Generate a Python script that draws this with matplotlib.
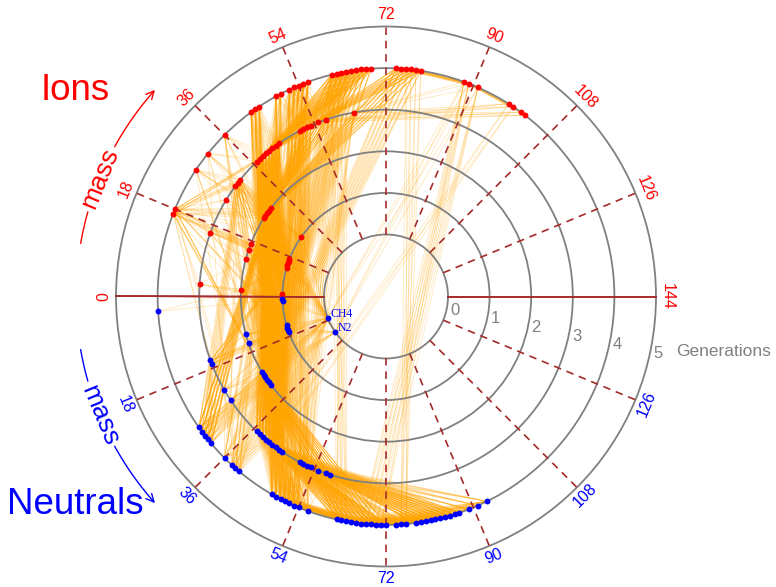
import numpy as np
import matplotlib
matplotlib.use("Agg")
import matplotlib.pyplot as plt
from matplotlib.collections import LineCollection
from matplotlib.patches import Circle, FancyArrowPatch
from matplotlib.path import Path

plt.rcParams['font.family'] = ['Liberation Sans', 'DejaVu Sans']

# ---------------------------------------------------------------------------
# Species: mass (amu) of each species, grouped by generation
# ---------------------------------------------------------------------------
ions_g1 = [1, 13, 14, 15, 16, 17, 28]
ions_g2 = [2, 12, 15, 17, 26, 27, 28, 29, 30]
ions_g3 = [3, 16, 25, 29, 30, 31, 37, 38, 39, 40, 41, 42, 43, 44,
           50, 51, 52, 53, 55, 57, 64]
ions_g4 = [17, 18, 27, 31, 36, 43, 44, 45, 49, 50, 52, 53, 54, 55, 56,
           61, 62, 63, 64, 65, 66, 67, 68, 69, 74, 75, 76, 77, 78, 79,
           88, 89, 91, 98, 99, 101, 102]

neutrals_g0 = [16, 28]
neutrals_g1 = [1, 2, 13, 14, 15, 16]
neutrals_g2 = [12, 15, 25, 26, 27, 28, 29, 30]
neutrals_g3 = [16, 17, 24, 27, 37, 38, 39, 40, 41, 42, 43, 44, 45,
               50, 51, 52, 53, 55, 57, 58]
neutrals_g4 = [3, 28, 29, 30, 31, 32, 36, 38, 39, 40, 48, 49, 50, 51, 52,
               53, 54, 56, 62, 63, 64, 65, 66, 67, 68, 69, 70, 71, 72,
               74, 75, 76, 78, 79, 80, 81, 82, 83, 84, 85, 86, 87, 89, 91, 93]

named_species = {("n", 0, 16): "CH4", ("n", 0, 28): "N2"}

# Reaction links: "sources > targets"; token = kind, generation, mass or mass range
reactions = [
    "i4.17 > i3.3 i3.16 i3.25 i3.29-31 i3.37-39 i2.2 i2.12-17 i2.26-29 i1.14-17 i1.28 n2.12-15 n2.26-28 n3.16-17",
    "i4.18 > i3.16 i3.25 i3.29-31 i3.37-40 i2.12-17 i2.26-30 i1.13-16 i1.28 n2.25-29 n3.24-27 n1.13-16",
    "i4.27 > i3.25 i3.29-31 i2.26-28 i1.28 n2.26-28 n3.27",
    "i4.31 > i3.29-31 i3.37-38 i2.29-30 n2.29-30 n3.24",
    "i4.36 > i3.37-40 i2.26-28 n2.25-27 n3.37-39",
    "i3.3 > i2.2 i1.1 n1.1-2 i2.12",
    "i3.16 > i2.15-17 i1.14-17 n2.15 n1.15-16",
    "i3.25 > i2.26-27 i1.13-14 n2.25-26 n1.13",
    "i3.29-31 > i2.26-30 i1.14-17 i1.28 n2.26-30 n1.13-16 n3.27 n4.28-32",
    "i4.43-45 > i3.37-44 i2.26-30 n3.37-45 n2.25-30",
    "i4.49-50 > i3.40-44 i3.50-52 n3.40-45 n4.48-52 i2.27-30",
    "i4.52-56 > i3.41-44 i3.50-57 n4.48-56 n3.43-45 n2.26-29 i1.13-17",
    "i4.61-69 > i3.50-57 i3.37-44 i2.26-30 n2.25-30",
    "i4.61-64 > n3.40-43 n3.50-53 n4.62-64",
    "i4.74-79 > i3.64 i3.50-57 i2.26-30 n2.26-29",
    "i4.76-79 > n4.75-76",
    "i4.88-91 > i4.74-79 i3.64 n4.67-71 n0.28 n0.16",
    "i4.98-102 > i3.64 i3.55-57 i4.88-91",
    "i4.98-99 > n3.41 n3.43",
    "i3.64 > i2.26-30 n3.50-53 n0.16",
    "i3.37-44 > i2.26-30 n3.37-45 n2.25-30 n4.48-54 i1.13-17 n1.13-16",
    "i3.50-57 > i3.37-44 i2.26-30",
    "i3.50-53 > n3.50-52 n3.43-45 n4.50-54",
    "i2.26-30 > i1.13-17 n2.25-30 n3.37-45 n1.13-16 n4.28-32 n0.16 n0.28 i1.28",
    "i2.2-17 > i1.1 i1.13-17 n1.1-2 n1.13-16 n0.16",
    "i1.13-17 > n0.16 n0.28 n1.13-16 n2.25-30 n3.16-17",
    "i1.28 > n0.28 n0.16 n1.14 n2.26-28",
    "i1.1 > n1.1-2 n0.16",
    "n4.62-72 > n3.50-58 n3.37-45 n2.25-30 n4.48-56",
    "n4.74-76 > n3.50-58 n4.62-66",
    "n4.78-87 > n3.50-58 n3.40-45 n4.62-72",
    "n4.89-93 > n3.50-58 n4.62-72",
    "n4.48-56 > n3.37-45 n2.25-30 n3.50-58",
    "n4.36-40 > n3.24-27 n2.25-30 n3.37-41 i2.26-30",
    "n4.28-32 > n3.16-17 n3.24-27 n2.25-30 i2.26-30 n0.16",
    "n4.3 > n1.1 i2.2",
    "n3.16-17 > n0.16 n1.13-16 n2.12-15",
    "n3.24-27 > n2.25-27 n1.13-14 n0.16 n0.28",
    "n3.37-45 > n2.25-30 n1.13-16 n0.16",
    "n3.50-58 > n2.25-30 n3.37-45",
    "n2.25-30 > n1.13-16 n0.16 n0.28",
    "n2.12-15 > n1.13-16 n0.16 n0.28",
    "n1.13-16 > n0.16 n0.28",
    "n1.1-2 > n0.16",
]

mass_ticks = [0, 18, 36, 54, 72, 90, 108, 126, 144]
generations = [0, 1, 2, 3, 4, 5]

# ---------------------------------------------------------------------------
# Geometry
# ---------------------------------------------------------------------------
R0 = 1.49            # radius of generation 0
MAX_MASS = 144.0
SCALE = 41.6         # pixels per radial unit
CX, CY = 386.0, 296.5
W, H = 776, 587


def radius(gen):
    return R0 + gen


def angle(kind, mass):
    frac = np.pi * mass / MAX_MASS
    return np.pi - frac if kind == "i" else np.pi + frac


def pos(kind, gen, mass):
    r, t = radius(gen), angle(kind, mass)
    return r * np.cos(t), r * np.sin(t)


def px(x, y):
    return (x - CX) / SCALE, (CY - y) / SCALE


species = {}
for kind, groups in (("i", [None, ions_g1, ions_g2, ions_g3, ions_g4]),
                     ("n", [neutrals_g0, neutrals_g1, neutrals_g2, neutrals_g3, neutrals_g4])):
    for gen, masses in enumerate(groups):
        if masses is None:
            continue
        for m in masses:
            species[(kind, gen, m)] = pos(kind, gen, m)


def expand(token):
    kind, gen, rng = token[0], int(token[1]), token[3:]
    lo, _, hi = rng.partition("-")
    lo = int(lo)
    hi = int(hi) if hi else lo
    return [k for k in species if k[0] == kind and k[1] == gen and lo <= k[2] <= hi]


segments = []
for rx in reactions:
    src, dst = rx.split(">")
    srcs = [k for t in src.split() for k in expand(t)]
    dsts = [k for t in dst.split() for k in expand(t)]
    for a in srcs:
        for b in dsts:
            if a != b:
                segments.append([species[a], species[b]])

# ---------------------------------------------------------------------------
# Figure
# ---------------------------------------------------------------------------
fig = plt.figure(figsize=(W / 100, H / 100), dpi=100)
ax = fig.add_axes([0, 0, 1, 1])
ax.set_xlim(-CX / SCALE, (W - CX) / SCALE)
ax.set_ylim(-(H - CY) / SCALE, CY / SCALE)
ax.axis("off")

ax.add_collection(LineCollection(segments, colors="#FFA500", linewidths=0.55,
                                 alpha=0.28, zorder=1))

GRID = "#808080"
BROWN = "#A52A2A"
for g in generations:
    ax.add_patch(Circle((0, 0), radius(g), fill=False, ec=GRID, lw=1.3, zorder=2))

rin, rout = radius(0), radius(5)
for m in mass_ticks:
    for kind in ("i", "n"):
        t = angle(kind, m)
        ls = "-" if m in (0, 144) else (0, (4.5, 3.5))
        ax.plot([rin * np.cos(t), rout * np.cos(t)], [rin * np.sin(t), rout * np.sin(t)],
                color=BROWN, lw=1.2, ls=ls, zorder=2.5)

# mass labels
rlab = 6.77
for m in mass_ticks:
    t = angle("i", m)
    ax.text(rlab * np.cos(t), rlab * np.sin(t), str(m), color="red", fontsize=11.5,
            rotation=np.degrees(t) - 90, ha="center", va="center", rotation_mode="anchor")
for m in mass_ticks[1:-1]:
    t = angle("n", m)
    rot = np.degrees(t) + 90
    rot = rot - 360 if rot > 180 else rot
    ax.text(rlab * np.cos(t), rlab * np.sin(t), str(m), color="blue", fontsize=11.5,
            rotation=rot, ha="center", va="center", rotation_mode="anchor")

# generation labels
tg = np.radians(-12)
for g in generations:
    r = radius(g) + 0.08
    ax.text(r * np.cos(tg), r * np.sin(tg), str(g), color=GRID, fontsize=12,
            ha="left", va="center")
ax.text(*px(676, 351), "Generations", color=GRID, fontsize=12.5, ha="left", va="center")

# species points
for kind, color in (("i", "red"), ("n", "blue")):
    pts = np.array([v for k, v in species.items() if k[0] == kind])
    ax.scatter(pts[:, 0], pts[:, 1], s=18, color=color, linewidths=0, zorder=4)

for key, name in named_species.items():
    x, y = species[key]
    ax.text(x + 0.06, y + 0.1, name, color="blue", fontsize=8.5,
            family=["Liberation Serif", "DejaVu Serif"], ha="left", va="center", zorder=5)

# titles
ax.text(*px(75, 90), "Ions", color="red", fontsize=26.5, ha="center", va="center")
ax.text(*px(75, 505), "Neutrals", color="blue", fontsize=26.5, ha="center", va="center")

# curved "mass" arrows
RA = 7.45


def arc(t0, t1, n=40):
    t = np.radians(np.linspace(t0, t1, n))
    return np.column_stack([RA * np.cos(t), RA * np.sin(t)])


for color, dash, txt_t, head, rot in (("red", (170.1, 164.2), 157.5, (151.1, 138.2), 67.5),
                                      ("blue", (189.9, 195.8), 202.5, (208.9, 221.8), -67.5)):
    d = arc(*dash)
    ax.plot(d[:, 0], d[:, 1], color=color, lw=1.0)
    a = arc(*head)
    ax.add_patch(FancyArrowPatch(path=Path(a), arrowstyle="->", mutation_scale=14,
                                 color=color, lw=1.0))
    tt = np.radians(txt_t)
    ax.text(RA * np.cos(tt), RA * np.sin(tt), "mass", color=color, fontsize=19,
            rotation=rot, ha="center", va="center", rotation_mode="anchor")

fig.savefig("out.png", dpi=100)
